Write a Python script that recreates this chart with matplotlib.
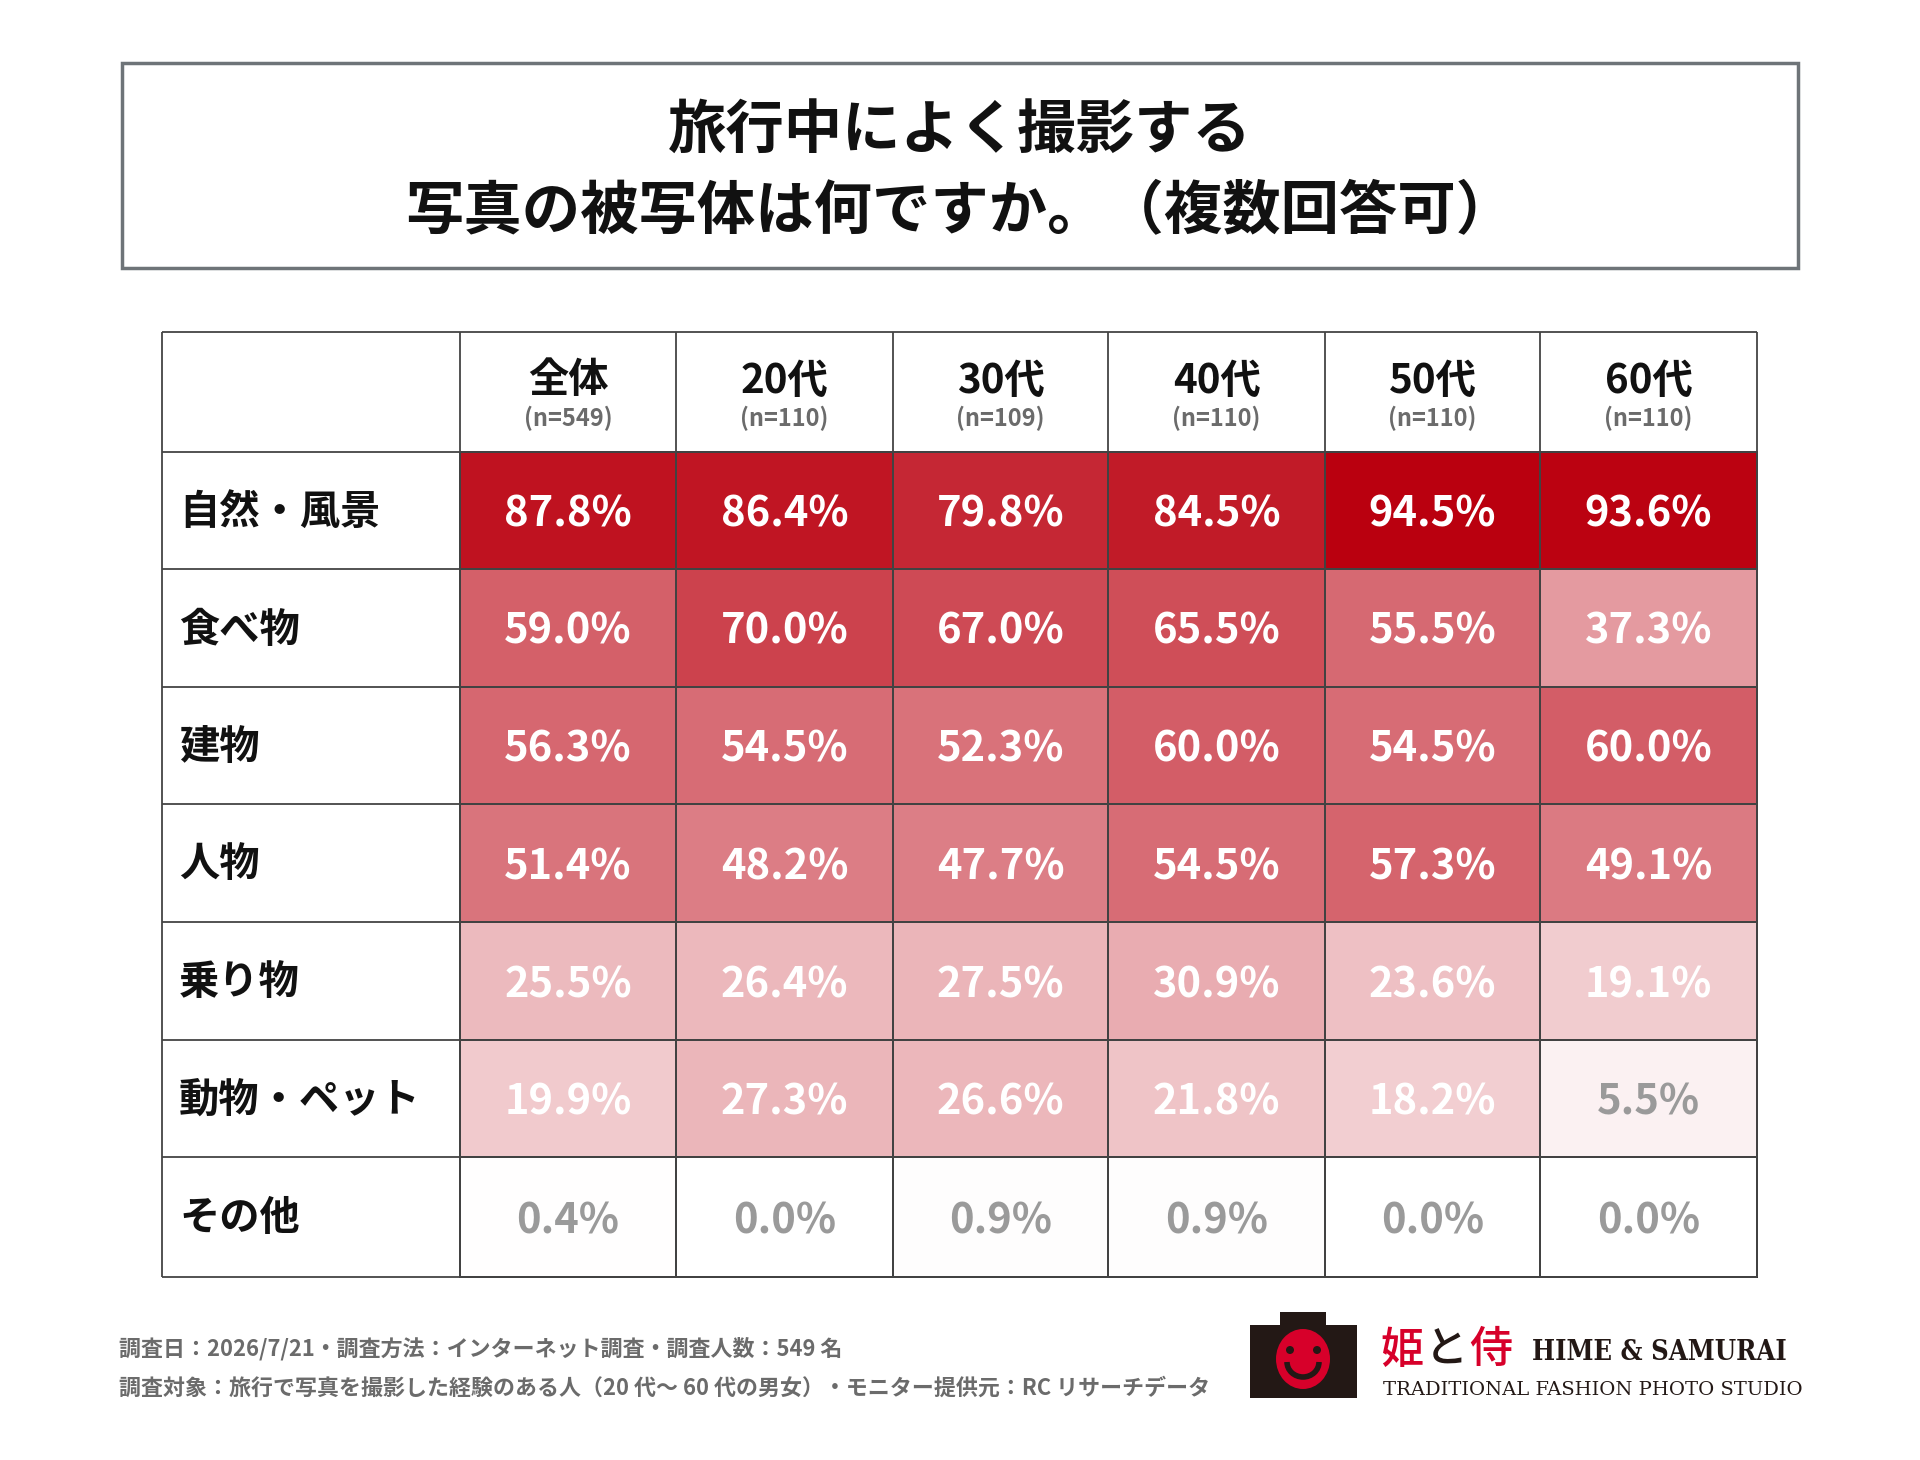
import matplotlib
matplotlib.use("Agg")
import matplotlib.pyplot as plt
import numpy as np
from matplotlib.colors import LinearSegmentedColormap
from matplotlib.patches import Rectangle, Ellipse, Arc, Circle

plt.rcParams["font.family"] = ["Noto Sans CJK JP", "DejaVu Sans"]

# Data
title = "旅行中によく撮影する\n写真の被写体は何ですか。（複数回答可）"
columns = ["全体", "20代", "30代", "40代", "50代", "60代"]
sample_sizes = ["(n=549)", "(n=110)", "(n=109)", "(n=110)", "(n=110)", "(n=110)"]
subjects = ["自然・風景", "食べ物", "建物", "人物", "乗り物", "動物・ペット", "その他"]
nature = [87.8, 86.4, 79.8, 84.5, 94.5, 93.6]
food = [59.0, 70.0, 67.0, 65.5, 55.5, 37.3]
buildings = [56.3, 54.5, 52.3, 60.0, 54.5, 60.0]
people = [51.4, 48.2, 47.7, 54.5, 57.3, 49.1]
vehicles = [25.5, 26.4, 27.5, 30.9, 23.6, 19.1]
animals = [19.9, 27.3, 26.6, 21.8, 18.2, 5.5]
other = [0.4, 0.0, 0.9, 0.9, 0.0, 0.0]
footer1 = "調査日：2026/7/21・調査方法：インターネット調査・調査人数：549 名"
footer2 = "調査対象：旅行で写真を撮影した経験のある人（20 代～ 60 代の男女）・モニター提供元：RC リサーチデータ"

values = np.array([nature, food, buildings, people, vehicles, animals, other])

# Layout (pixels)
col_edges = np.array([460, 676, 893, 1108, 1325, 1540, 1757])
label_left = 162
row_edges = np.array([452, 569, 687, 804, 922, 1040, 1157, 1277])
header_top = 332

fig = plt.figure(figsize=(19.2, 14.6), dpi=100)
ax = fig.add_axes([0, 0, 1, 1])
ax.set_xlim(0, 1920)
ax.set_ylim(1460, 0)
ax.axis("off")

# Title box
ax.add_patch(Rectangle((122, 63), 1676, 205, fill=False, edgecolor="#6e7478", lw=2.5))
ax.text(960, 171, title, ha="center", va="center", fontsize=42, fontweight="bold",
        color="#111111", linespacing=1.45)

# Heatmap cells
cmap = LinearSegmentedColormap.from_list("reds", ["#ffffff", "#ba000f"])
ax.pcolormesh(col_edges, row_edges, values, cmap=cmap, vmin=0, vmax=94.5,
              edgecolors="#333333", linewidth=1.2)

# Grid lines for header and label column
ax.hlines(row_edges, label_left, col_edges[-1], color="#444444", lw=1.3)
ax.hlines(header_top, label_left, col_edges[-1], color="#444444", lw=1.3)
ax.vlines(np.r_[label_left, col_edges], header_top, row_edges[-1], color="#444444", lw=1.3)

col_centers = (col_edges[:-1] + col_edges[1:]) / 2
row_centers = (row_edges[:-1] + row_edges[1:]) / 2

for x, name, n in zip(col_centers, columns, sample_sizes):
    ax.text(x, 381, name, ha="center", va="center", fontsize=29, fontweight="bold", color="#111111")
    ax.text(x, 418, n, ha="center", va="center", fontsize=17, fontweight="bold", color="#6b6b6b")

for y, name in zip(row_centers, subjects):
    ax.text(179, y + 2, name, ha="left", va="center", fontsize=29, fontweight="bold", color="#111111")

for i, y in enumerate(row_centers):
    for j, x in enumerate(col_centers):
        v = values[i, j]
        color = "white" if v >= 10 else "#9a9a9a"
        ax.text(x, y + 4, f"{v:.1f}%", ha="center", va="center", fontsize=30,
                fontweight="bold", color=color)

# Footer
ax.text(119, 1349, footer1, ha="left", va="center", fontsize=15.8, fontweight="bold", color="#6b6b6b")
ax.text(119, 1388, footer2, ha="left", va="center", fontsize=15.8, fontweight="bold", color="#6b6b6b")

# Logo
ax.add_patch(Rectangle((1280, 1312), 46, 16, facecolor="#231815", edgecolor="none"))
ax.add_patch(Rectangle((1250, 1325), 107, 73, facecolor="#231815", edgecolor="none"))
ax.add_patch(Ellipse((1303, 1359), 54, 60, facecolor="#d7002a", edgecolor="none"))
ax.add_patch(Circle((1290, 1350), 4, facecolor="#231815"))
ax.add_patch(Circle((1317, 1350), 4, facecolor="#231815"))
ax.add_patch(Arc((1303, 1362), 32, 30, theta1=0, theta2=180, color="#231815", lw=4))
ax.text(1380, 1350, "姫", ha="left", va="center", fontsize=31, fontweight="medium", color="#d7002a")
ax.text(1425, 1350, "と", ha="left", va="center", fontsize=31, fontweight="medium", color="#231815")
ax.text(1469, 1350, "侍", ha="left", va="center", fontsize=31, fontweight="medium", color="#d7002a")
ax.text(1532, 1353, "HIME & SAMURAI", ha="left", va="center", fontsize=19.5,
        family="DejaVu Serif", fontweight="bold", stretch="condensed", color="#231815")
ax.text(1383, 1390, "TRADITIONAL FASHION PHOTO STUDIO", ha="left", va="center", fontsize=14,
        family="DejaVu Serif", color="#231815")

fig.savefig("out.png", dpi=100, facecolor="white")
